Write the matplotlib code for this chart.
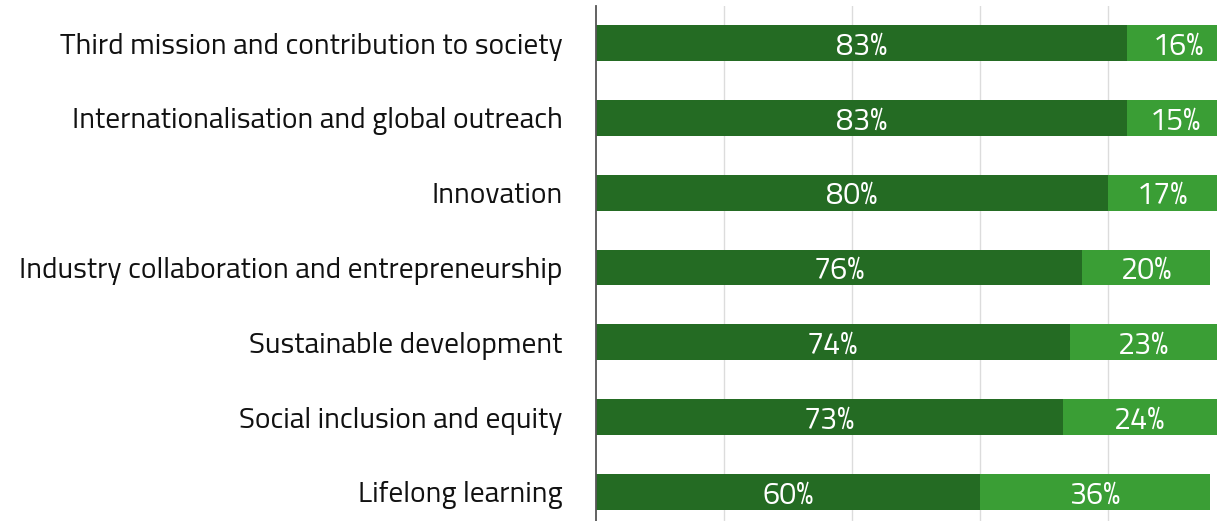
import matplotlib
matplotlib.use("Agg")
import matplotlib.pyplot as plt
import numpy as np

# Data
categories = [
    "Third mission and contribution to society",
    "Internationalisation and global outreach",
    "Innovation",
    "Industry collaboration and entrepreneurship",
    "Sustainable development",
    "Social inclusion and equity",
    "Lifelong learning",
]
share_main = [83, 83, 80, 76, 74, 73, 60]
share_second = [16, 15, 17, 20, 23, 24, 36]

fonts = ["Titillium Web", "Saira Semi Condensed", "Encode Sans Semi Condensed", "DejaVu Sans"]
plt.rcParams["font.family"] = fonts

dark = "#246b23"
light = "#3a9e35"

fig = plt.figure(figsize=(12.17, 5.21), dpi=100)
ax = fig.add_axes([596 / 1217, -0.016, 640 / 1217, 1.005])

y = np.arange(len(categories))
ax.barh(y, share_main, height=0.48, color=dark, zorder=2)
ax.barh(y, share_second, left=share_main, height=0.48, color=light, zorder=2)

for i in range(len(categories)):
    ax.text(share_main[i] / 2, y[i], f"{share_main[i]}%", ha="center", va="center_baseline",
            color="white", fontsize=22, zorder=3)
    ax.text(share_main[i] + share_second[i] / 2, y[i], f"{share_second[i]}%", ha="center",
            va="center_baseline", color="white", fontsize=22, zorder=3)

ax.set_xlim(0, 100)
ax.set_ylim(len(categories) - 0.5, -0.5)
ax.set_yticks(y)
ax.set_yticklabels(categories, fontsize=21.2, color="#111111")
for lab in ax.get_yticklabels():
    lab.set_verticalalignment("center_baseline")
ax.set_xticks([20, 40, 60, 80])
ax.xaxis.grid(True, color="#dcdcdc", linewidth=1)
ax.set_axisbelow(True)
ax.tick_params(axis="y", length=0, pad=24)
ax.tick_params(axis="x", length=0, labelbottom=False)
for s in ["top", "right", "bottom"]:
    ax.spines[s].set_visible(False)
ax.spines["left"].set_color("#555555")
ax.spines["left"].set_linewidth(1.3)

fig.savefig("out.png", dpi=100)
